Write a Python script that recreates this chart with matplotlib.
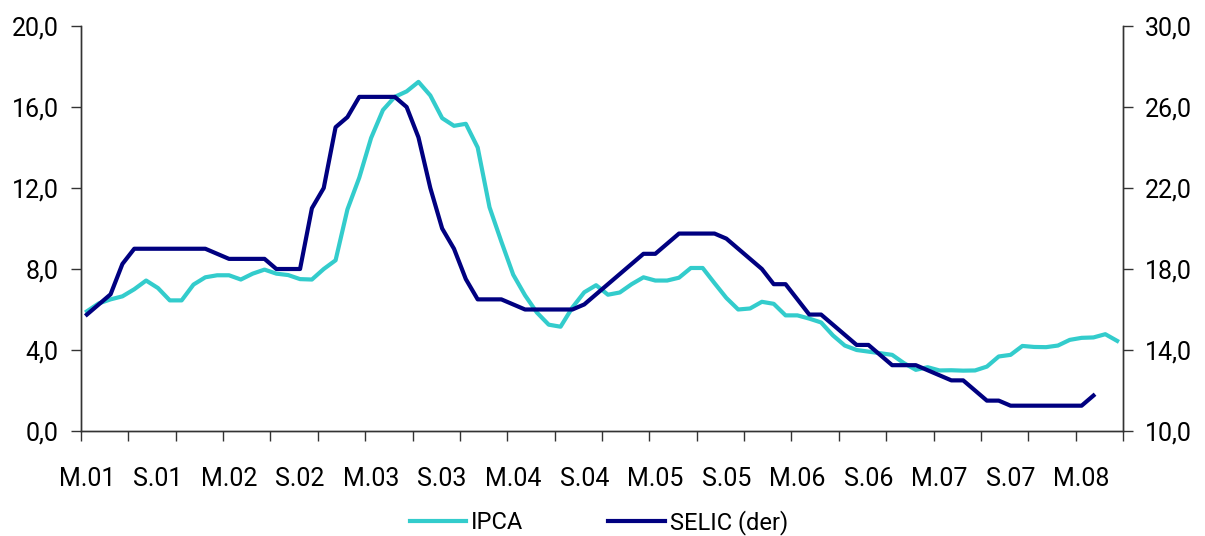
import numpy as np
import matplotlib
matplotlib.use("Agg")
import matplotlib.pyplot as plt
from matplotlib.ticker import FuncFormatter

plt.rcParams['font.family'] = ['Roboto', 'DejaVu Sans']

# monthly, Jan 2001 .. Apr 2008 (labels every 6 months)
tick_labels = ["M.01", "S.01", "M.02", "S.02", "M.03", "S.03", "M.04", "S.04",
               "M.05", "S.05", "M.06", "S.06", "M.07", "S.07", "M.08"]

ipca = [5.91, 6.3, 6.5, 6.65, 7.0, 7.43, 7.06, 6.45, 6.45, 7.23,
        7.59, 7.69, 7.69, 7.48, 7.77, 7.97, 7.77, 7.7, 7.5, 7.48,
        8.0, 8.43, 10.94, 12.51, 14.47, 15.85, 16.5, 16.77, 17.24, 16.57,
        15.45, 15.07, 15.17, 14.0, 11.05, 9.35, 7.72, 6.7, 5.85, 5.25,
        5.15, 6.1, 6.85, 7.2, 6.73, 6.84, 7.25, 7.59, 7.43, 7.43,
        7.57, 8.05, 8.05, 7.3, 6.57, 6.0, 6.05, 6.38, 6.28, 5.71,
        5.71, 5.55, 5.36, 4.72, 4.22, 4.0, 3.92, 3.84, 3.76, 3.35,
        3.02, 3.15, 2.99, 3.0, 2.98, 2.99, 3.18, 3.68, 3.76, 4.2,
        4.15, 4.14, 4.22, 4.5, 4.6, 4.62, 4.78, 4.45]

selic = [15.75, 16.25, 16.75, 18.25, 19.0, 19.0, 19.0, 19.0, 19.0, 19.0,
         19.0, 18.75, 18.5, 18.5, 18.5, 18.5, 18.0, 18.0, 18.0, 21.0,
         22.0, 25.0, 25.5, 26.5, 26.5, 26.5, 26.5, 26.0, 24.5, 22.0,
         20.0, 19.0, 17.5, 16.5, 16.5, 16.5, 16.25, 16.0, 16.0, 16.0,
         16.0, 16.0, 16.25, 16.75, 17.25, 17.75, 18.25, 18.75, 18.75, 19.25,
         19.75, 19.75, 19.75, 19.75, 19.5, 19.0, 18.5, 18.0, 17.25, 17.25,
         16.5, 15.75, 15.75, 15.25, 14.75, 14.25, 14.25, 13.75, 13.25, 13.25,
         13.25, 13.0, 12.75, 12.5, 12.5, 12.0, 11.5, 11.5, 11.25, 11.25,
         11.25, 11.25, 11.25, 11.25, 11.25, 11.75]

n_cat = 88
fmt = FuncFormatter(lambda v, p: f"{v:.1f}".replace('.', ','))

fig = plt.figure(figsize=(12.05, 5.36), dpi=100)
ax = fig.add_axes([0.0672, 0.1959, 0.8648, 0.7556])
ax2 = ax.twinx()

l1, = ax.plot(np.arange(len(ipca)), ipca, color='#33CCCC', lw=3.0,
              solid_joinstyle='round', label='IPCA')
l2, = ax2.plot(np.arange(len(selic)), selic, color='#000080', lw=3.0,
               solid_joinstyle='round', label='SELIC (der)')
ax2.set_zorder(ax.get_zorder() + 1)
ax2.patch.set_visible(False)

ax.set_xlim(-0.5, n_cat - 0.5)
ax.set_ylim(0, 20)
ax2.set_ylim(10, 30)
ax.set_yticks(np.arange(0, 21, 4))
ax2.set_yticks(np.arange(10, 31, 4))
ax.yaxis.set_major_formatter(fmt)
ax2.yaxis.set_major_formatter(fmt)

# tick marks every 4 months, labels every 6 months
ax.set_xticks(np.arange(-0.5, n_cat, 4))
ax.set_xticklabels([])
ax.set_xticks(np.arange(0, 6 * len(tick_labels), 6), minor=True)
ax.set_xticklabels(tick_labels, minor=True)
ax.tick_params(axis='x', which='major', length=7, width=1, color='#333333', direction='out')
ax.tick_params(axis='x', which='minor', length=0, pad=26, labelsize=18)

ax.tick_params(axis='y', length=7, width=1, color='#333333', pad=9, labelsize=18)
ax2.tick_params(axis='y', length=7, width=1, color='#333333', pad=9, labelsize=18)

for a in (ax, ax2):
    a.spines['top'].set_visible(False)
    for s in ('left', 'right', 'bottom'):
        a.spines[s].set_color('#333333')
        a.spines[s].set_linewidth(1)

fig.legend(handles=[l1, l2], loc='center', bbox_to_anchor=(0.497, 0.026),
           ncol=2, frameon=False, fontsize=17, handlelength=2.4,
           handletextpad=0.2, columnspacing=3.6)

fig.savefig("out.png", dpi=100)
